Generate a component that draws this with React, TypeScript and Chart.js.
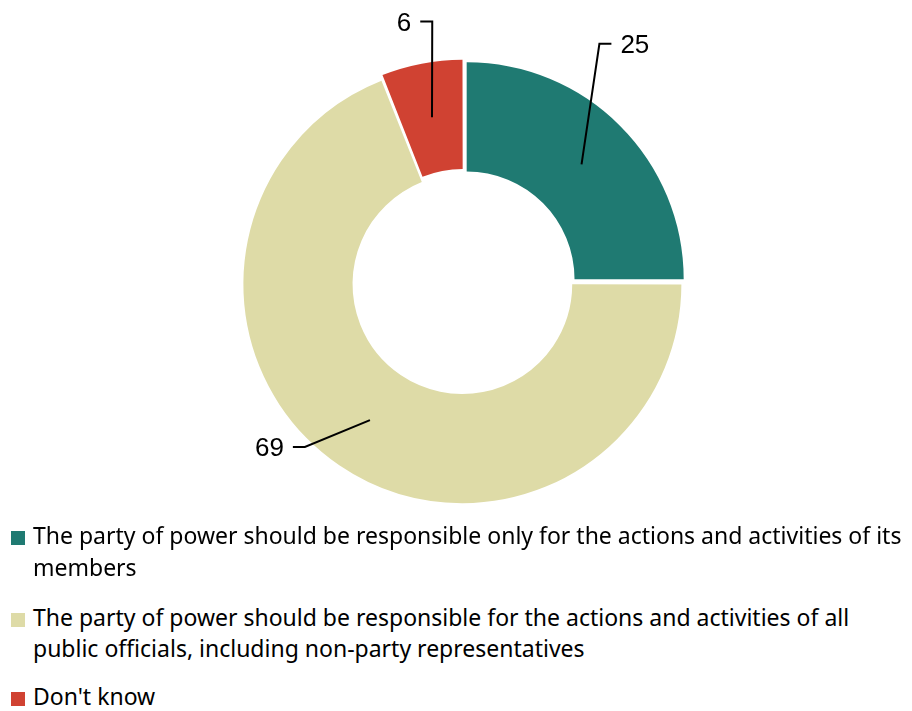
import { useEffect, useRef } from 'react';
import { Chart, ArcElement, DoughnutController } from 'chart.js';

Chart.register(ArcElement, DoughnutController);

// ---- data ----
const legendLines: string[][] = [
  ['The party of power should be responsible only for the actions and activities of its', 'members'],
  ['The party of power should be responsible for the actions and activities of all', 'public officials, including non-party representatives'],
  ["Don't know"],
];
const categories = legendLines.map((l) => l.join(' '));
const values = [25, 69, 6];
const colors = ['#1F7A72', '#DEDBA7', '#D04232'];

// ---- label leader styling (relative to each slice) ----
const sliceOffsets = [18, 8, 14];
const leaderAngleShift = [-15.35, 9.76, 3.97]; // degrees from slice bisector
const leaderRadiusFactor = [1.266, 1.053, 1.211]; // times outer radius
const leaderSide = [1, -1, -1];

const LEGEND_FONT = '"Noto Sans", "Open Sans", sans-serif';
const LABEL_FONT = '26px "Liberation Sans", Arial, sans-serif';

const leaderPlugin = {
  id: 'leaders',
  afterDatasetsDraw(chart: any) {
    const ctx = chart.ctx as CanvasRenderingContext2D;
    const meta = chart.getDatasetMeta(0);
    meta.data.forEach((arc: any, i: number) => {
      const p = arc.getProps(['x', 'y', 'startAngle', 'endAngle', 'innerRadius', 'outerRadius', 'circumference'], true);
      const mid = (p.startAngle + p.endAngle) / 2;
      const off = sliceOffsets[i] / 4;
      const fix = 1 - Math.sin(Math.min(Math.PI, p.circumference || 0));
      const cx = p.x + Math.cos(mid) * off;
      const cy = p.y + Math.sin(mid) * off;
      const rMid = (p.innerRadius + p.outerRadius) / 2 + off * fix;
      const sx = cx + Math.cos(mid) * rMid;
      const sy = cy + Math.sin(mid) * rMid;
      const ang = mid + (leaderAngleShift[i] * Math.PI) / 180;
      const rE = p.outerRadius * leaderRadiusFactor[i];
      const ex = p.x + Math.cos(ang) * rE;
      const ey = p.y + Math.sin(ang) * rE;
      const side = leaderSide[i];
      const hx = ex + side * 12;
      ctx.save();
      ctx.strokeStyle = '#000';
      ctx.lineWidth = 2;
      ctx.beginPath();
      ctx.moveTo(sx, sy);
      ctx.lineTo(ex, ey);
      ctx.lineTo(hx, ey);
      ctx.stroke();
      ctx.fillStyle = '#000';
      ctx.font = LABEL_FONT;
      ctx.textAlign = side > 0 ? 'left' : 'right';
      ctx.textBaseline = 'alphabetic';
      ctx.fillText(String(values[i]), hx + side * 9, ey + 9.3);
      ctx.restore();
    });
  },
};

export default function App() {
  const canvasRef = useRef<HTMLCanvasElement | null>(null);

  useEffect(() => {
    if (!canvasRef.current) return;
    const chart = new Chart(canvasRef.current, {
      type: 'doughnut',
      data: {
        labels: categories,
        datasets: [
          {
            data: values,
            backgroundColor: colors,
            borderWidth: 0,
            offset: sliceOffsets,
          },
        ],
      },
      options: {
        animation: false,
        responsive: false,
        maintainAspectRatio: false,
        radius: 217,
        cutout: '49.7%',
        layout: { padding: { left: 15, right: 0, top: 0, bottom: 0 } },
        plugins: { legend: { display: false }, tooltip: { enabled: false } },
        events: [],
      } as any,
      plugins: [leaderPlugin],
    });
    return () => chart.destroy();
  }, []);

  const itemTops = [520, 601.5, 681];

  return (
    <div style={{ position: 'fixed', left: 0, top: 0, width: 912, height: 711, background: '#fff', overflow: 'hidden' }}>
      <canvas ref={canvasRef} width={912} height={565} style={{ position: 'absolute', left: 0, top: 0, width: 912, height: 565 }} />
      {legendLines.map((lines, i) => (
        <div
          key={i}
          style={{
            position: 'absolute',
            left: 0,
            top: itemTops[i],
            fontFamily: LEGEND_FONT,
            fontSize: 23,
            lineHeight: '31.5px',
            color: '#000',
            whiteSpace: 'nowrap',
          }}
        >
          <span
            style={{
              position: 'absolute',
              left: 11,
              top: 11,
              width: 14,
              height: 14,
              background: colors[i],
            }}
          />
          <div style={{ marginLeft: 33 }}>
            {lines.map((ln, j) => (
              <div key={j}>{ln}</div>
            ))}
          </div>
        </div>
      ))}
    </div>
  );
}
